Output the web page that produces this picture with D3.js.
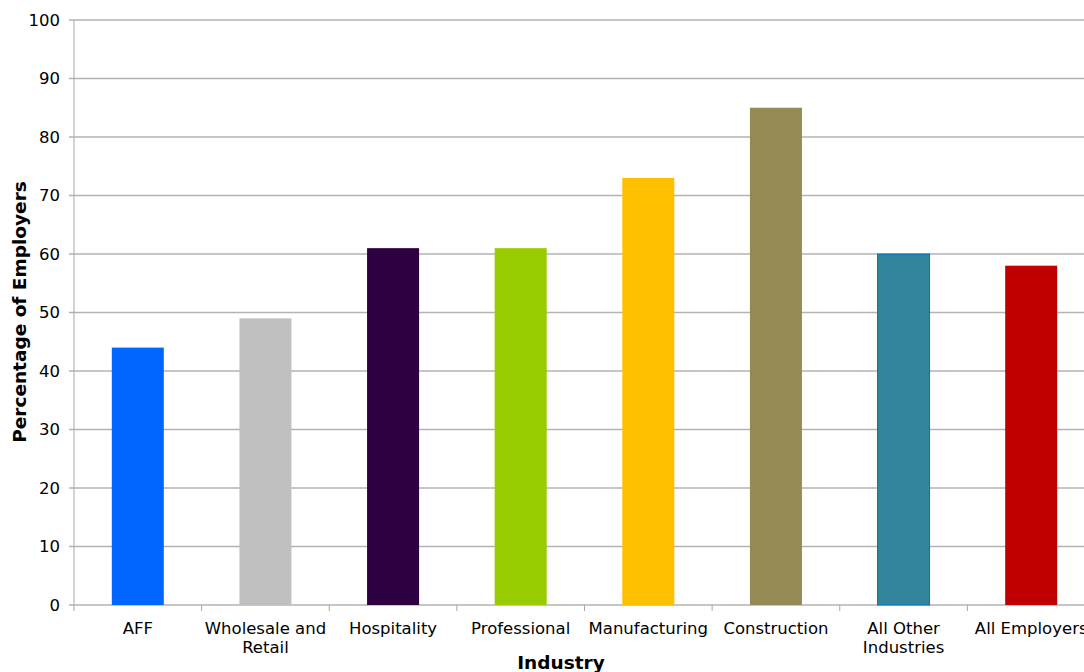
<!DOCTYPE html>
<html>
<head>
<meta charset="utf-8">
<script src="https://cdn.jsdelivr.net/npm/d3@7"></script>
<style>
  body { margin: 0; background: #fff; }
  svg { font-family: "DejaVu Sans", Verdana, sans-serif; }
</style>
</head>
<body>
<svg id="chart" width="1084" height="672"></svg>
<script>
const industries = ["AFF", "Wholesale and Retail", "Hospitality", "Professional", "Manufacturing", "Construction", "All Other Industries", "All Employers"];
const labelLines = [["AFF"], ["Wholesale and", "Retail"], ["Hospitality"], ["Professional"], ["Manufacturing"], ["Construction"], ["All Other", "Industries"], ["All Employers"]];
const percentages = [44, 49, 61, 61, 73, 85, 60, 58];
const barColors = ["#0066ff", "#c0c0c0", "#2e0042", "#99cc00", "#ffc000", "#948a54", "#31849b", "#c00000"];
const yTicks = [0, 10, 20, 30, 40, 50, 60, 70, 80, 90, 100];

const plotLeft = 74, plotTop = 20, plotBottom = 605, plotRight = 1095;

const svg = d3.select("#chart");

const x = d3.scaleBand()
  .domain(industries)
  .range([plotLeft, plotRight])
  .paddingInner(0.5925)
  .paddingOuter(0.29625);

const y = d3.scaleLinear()
  .domain([0, 100])
  .range([plotBottom, plotTop]);

// grid lines
svg.append("g")
  .selectAll("line")
  .data(yTicks)
  .enter()
  .append("line")
  .attr("x1", plotLeft - 5)
  .attr("x2", plotRight)
  .attr("y1", d => y(d))
  .attr("y2", d => y(d))
  .attr("stroke", "#b3b3b3")
  .attr("stroke-width", 1.5);

// y axis line
svg.append("line")
  .attr("x1", plotLeft).attr("x2", plotLeft)
  .attr("y1", plotTop).attr("y2", plotBottom)
  .attr("stroke", "#a6a6a6")
  .attr("stroke-width", 1);

// y tick labels
svg.append("g")
  .selectAll("text")
  .data(yTicks)
  .enter()
  .append("text")
  .attr("x", plotLeft - 14)
  .attr("y", d => y(d))
  .attr("dy", "0.36em")
  .attr("text-anchor", "end")
  .attr("font-size", 16.5)
  .attr("fill", "#000")
  .text(d => d);

// x ticks at band boundaries
const step = x.step();
svg.append("g")
  .selectAll("line")
  .data(d3.range(0, industries.length + 1))
  .enter()
  .append("line")
  .attr("x1", i => plotLeft + i * step)
  .attr("x2", i => plotLeft + i * step)
  .attr("y1", plotBottom)
  .attr("y2", plotBottom + 6)
  .attr("stroke", "#a6a6a6")
  .attr("stroke-width", 1);

// bars
svg.append("g")
  .selectAll("rect")
  .data(industries)
  .enter()
  .append("rect")
  .attr("x", d => x(d))
  .attr("width", x.bandwidth())
  .attr("y", (d, i) => y(percentages[i]))
  .attr("height", (d, i) => plotBottom - y(percentages[i]))
  .attr("fill", (d, i) => barColors[i])
  .attr("stroke", (d, i) => i === 6 ? "#0070c0" : "none")
  .attr("stroke-width", 1);

// x labels
const labels = svg.append("g")
  .selectAll("text")
  .data(industries)
  .enter()
  .append("text")
  .attr("x", d => x(d) + x.bandwidth() / 2)
  .attr("y", 634)
  .attr("text-anchor", "middle")
  .attr("font-size", 16.5)
  .attr("fill", "#000");

labels.each(function(d, i) {
  const t = d3.select(this);
  labelLines[i].forEach((line, j) => {
    t.append("tspan")
      .attr("x", x(d) + x.bandwidth() / 2)
      .attr("dy", j === 0 ? 0 : 19)
      .text(line);
  });
});

// axis titles
svg.append("text")
  .attr("x", 561)
  .attr("y", 669)
  .attr("text-anchor", "middle")
  .attr("font-size", 18.5)
  .attr("font-weight", "bold")
  .text("Industry");

svg.append("text")
  .attr("transform", "translate(26," + 312 + ") rotate(-90)")
  .attr("text-anchor", "middle")
  .attr("font-size", 18.5)
  .attr("font-weight", "bold")
  .text("Percentage of Employers");
</script>
</body>
</html>
